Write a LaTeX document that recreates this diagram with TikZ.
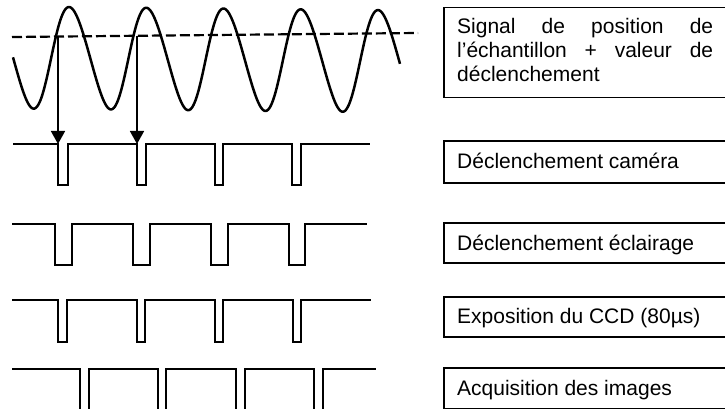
\documentclass[tikz,border=0pt]{standalone}
\usepackage{fontspec}
\setmainfont{Liberation Sans}
\usetikzlibrary{arrows.meta}
\begin{document}
\begin{tikzpicture}[x=1pt,y=-1pt,
  sig/.style={line width=2.3pt, line join=miter},
  labelbox/.style={draw, line width=1.5pt, rectangle, minimum width=300pt, anchor=north west, inner sep=0pt},
  labeltext/.style={anchor=base west, inner sep=0pt, font=\fontsize{21}{24}\selectfont},
  trigarrow/.style={line width=1.5pt, -{Triangle[width=14pt,length=13pt]}},
  thresh/.style={line width=2.2pt, dash pattern=on 10pt off 4pt}]
\useasboundingbox (0,0) rectangle (725,409);

% sample position signal
\draw[sig, line width=2.5pt] plot[domain=13:400, samples=400, smooth]
  (\x, {58+0.01*(\x-69)-51*cos((\x-69)/77.25*360 - 7.94*(1-cos((\x-69)/77.25*360)))});
% trigger threshold
\coordinate (th0) at (12,37);
\coordinate (th1) at (418,33);
\draw[thresh] (th0) -- (th1);

% trigger arrows
\coordinate (c1) at (58,37);
\coordinate (t1) at (58,144);
\coordinate (c2) at (137,36);
\coordinate (t2) at (137,144);
\draw[trigarrow] (c1) -- (t1);
\draw[trigarrow] (c2) -- (t2);

% camera trigger
\draw[sig] (13,144) -- (58,144) -- (58,185) -- (68,185) -- (68,144)
  -- (137,144) -- (137,185) -- (146,185) -- (146,144)
  -- (215,144) -- (215,185) -- (223,185) -- (223,144)
  -- (292,144) -- (292,185) -- (301,185) -- (301,144) -- (370,144);
% lighting trigger
\draw[sig] (12,224) -- (55,224) -- (55,265) -- (72,265) -- (72,224)
  -- (133,224) -- (133,265) -- (150,265) -- (150,224)
  -- (211,224) -- (211,265) -- (228,265) -- (228,224)
  -- (289,224) -- (289,265) -- (305,265) -- (305,224) -- (367,224);
% CCD exposure
\draw[sig] (12,300) -- (58,300) -- (58,342) -- (67,342) -- (67,300)
  -- (137,300) -- (137,342) -- (145,342) -- (145,300)
  -- (215,300) -- (215,342) -- (223,342) -- (223,300)
  -- (293,300) -- (293,342) -- (301,342) -- (301,300) -- (371,300);
% image acquisition
\draw[sig] (12,369) -- (80,369) -- (80,412) -- (89,412) -- (89,369)
  -- (158,369) -- (158,412) -- (166,412) -- (166,369)
  -- (236,369) -- (236,412) -- (245,412) -- (245,369)
  -- (314,369) -- (314,412) -- (323,412) -- (323,369) -- (376,369);

% label boxes
\node[labelbox, minimum height=90pt] (b1) at (443,7) {};
\node[labelbox, minimum height=42pt] (b2) at (443,140) {};
\node[labelbox, minimum height=40pt] (b3) at (443,222) {};
\node[labelbox, minimum height=40pt] (b4) at (443,296) {};
\node[labelbox, minimum height=41pt] (b5) at (443,367) {};

\node[labeltext] (l1) at (457,34) {\parbox[t]{256pt}{\hyphenpenalty=10000\tolerance=10000\hbadness=10000
  Signal de position de\linebreak l'échantillon + valeur de\linebreak déclenchement}};
\node[labeltext] (l2) at (457,168) {Déclenchement caméra};
\node[labeltext] (l3) at (457,250) {Déclenchement éclairage};
\node[labeltext] (l4) at (457,323) {Exposition du CCD (80µs)};
\node[labeltext] (l5) at (457,395) {Acquisition des images};
\end{tikzpicture}
\end{document}
